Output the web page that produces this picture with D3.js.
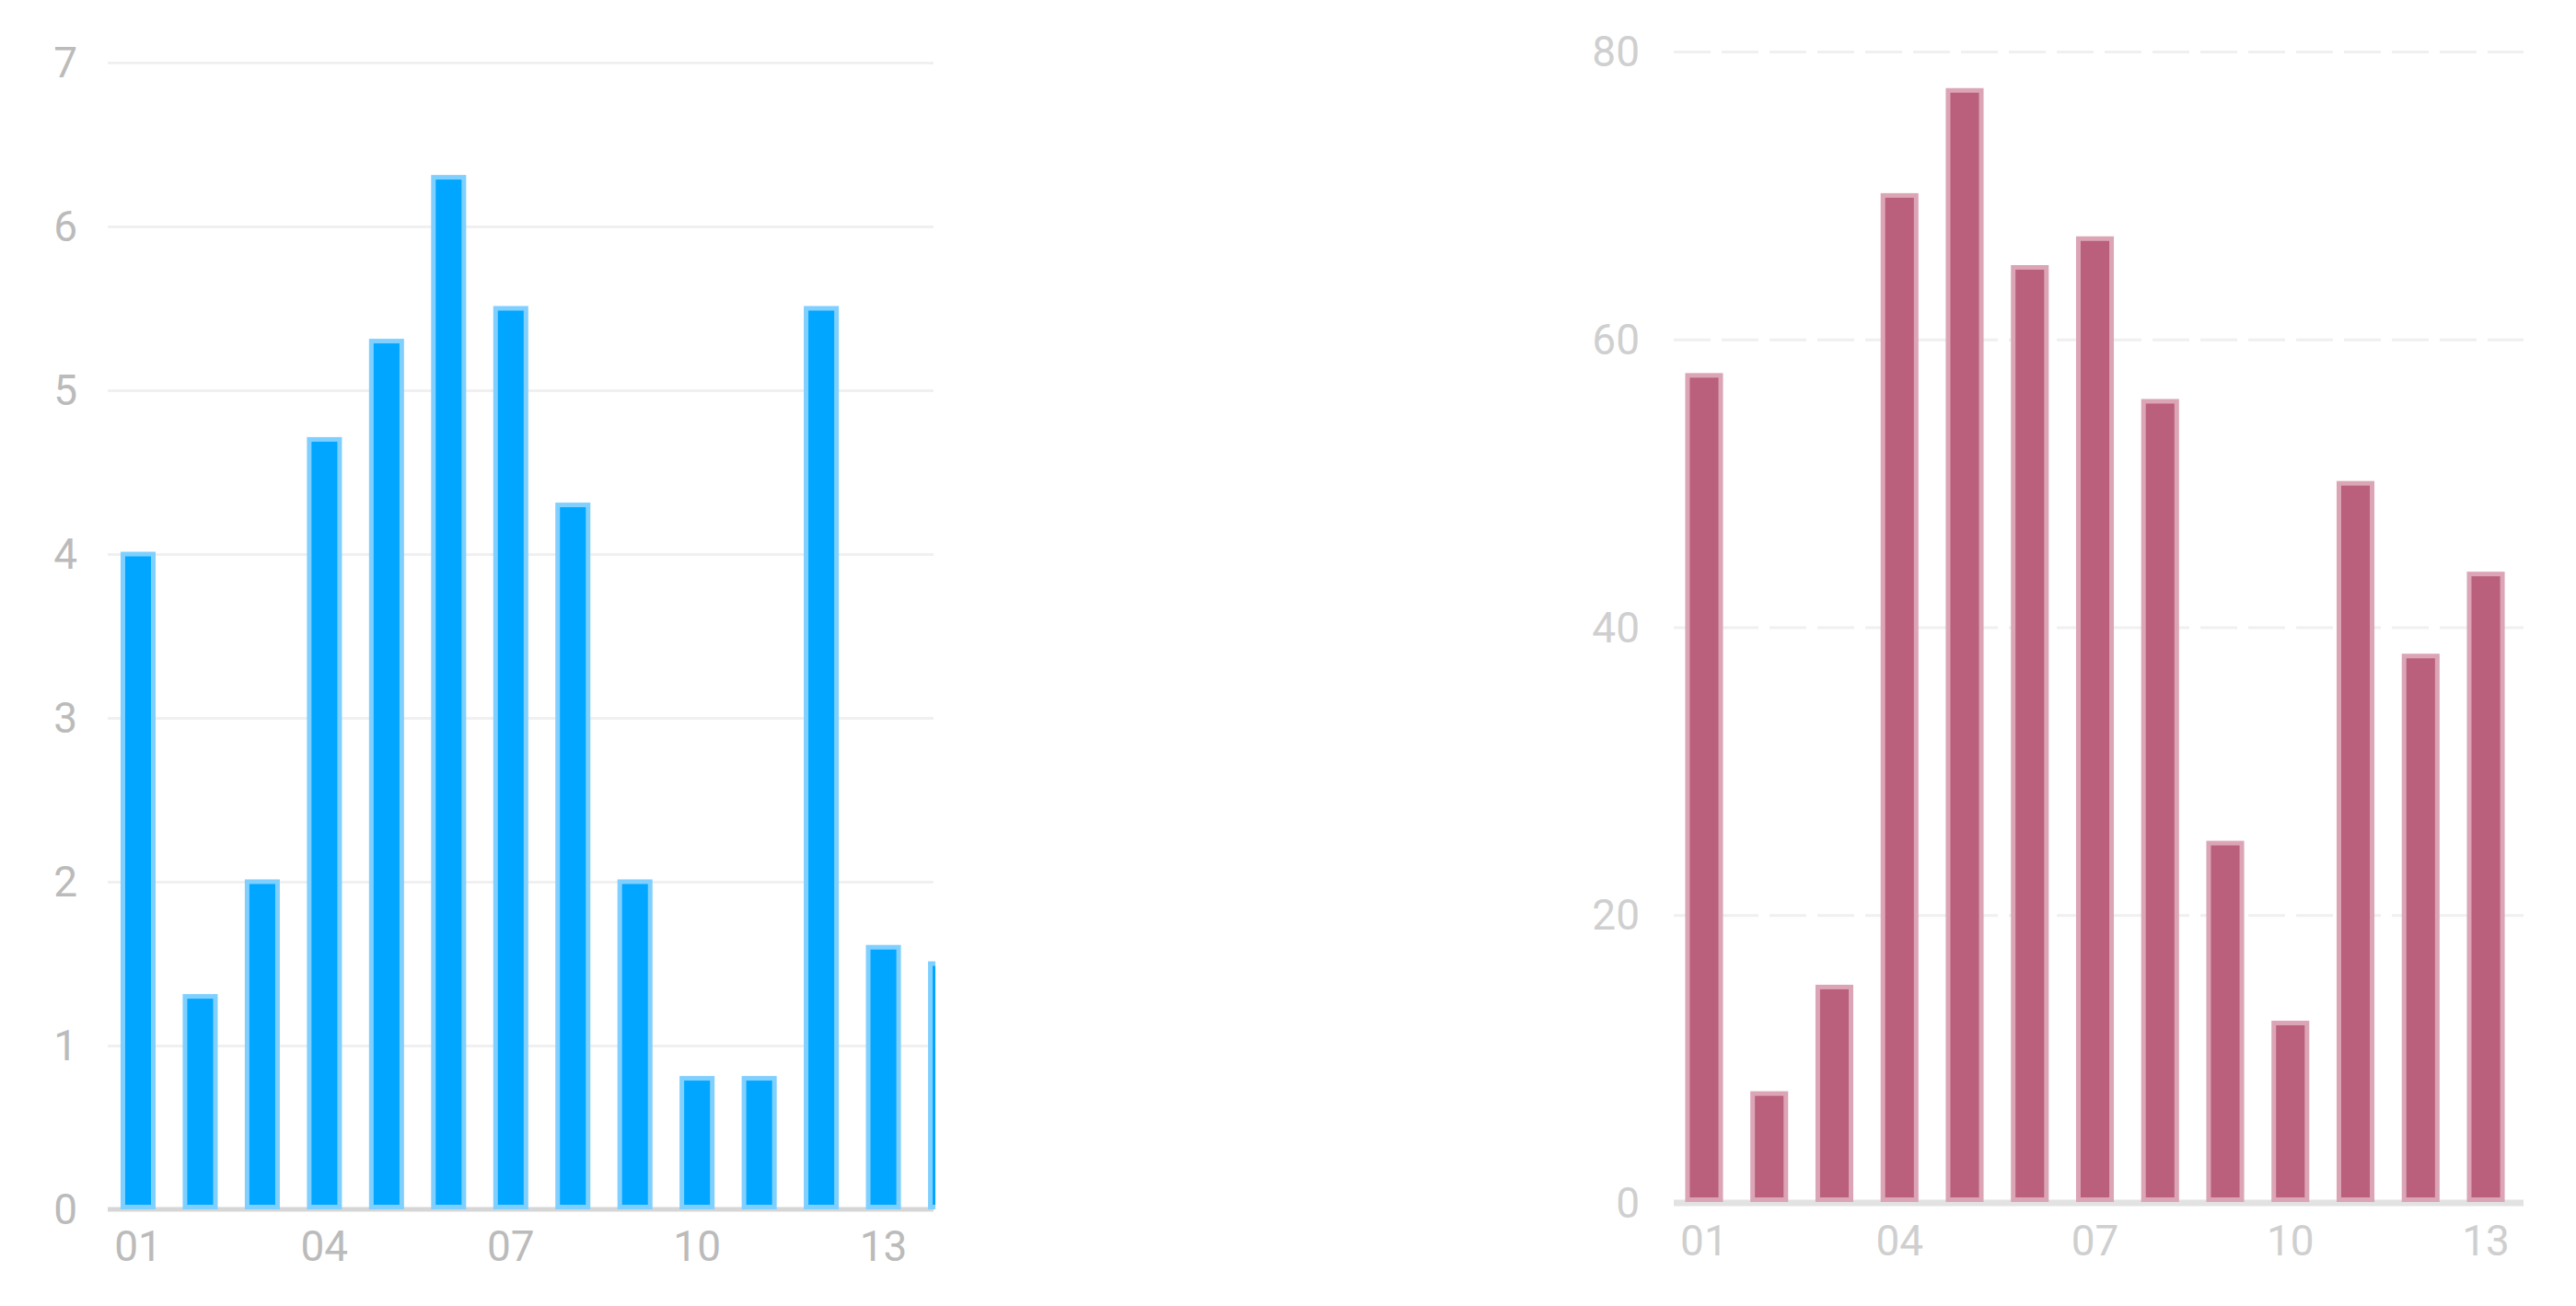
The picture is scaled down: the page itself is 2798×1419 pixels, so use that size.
<!DOCTYPE html>
<html>
<head>
<meta charset="utf-8">
<script src="https://cdn.jsdelivr.net/npm/d3@7"></script>
<style>
    html, body { margin: 0; padding: 0; background: #fff; }
    svg { display: block; }
    .tick-label { font-family: "Helvetica Neue", Roboto, "Liberation Sans", sans-serif; font-weight: 400; font-size: 46px; }
</style>
</head>
<body>
<div id="chart"></div>
<script>
// Left panel (blue) - 14 days, last one cut off by the panel edge
const leftDays = ['01', '02', '03', '04', '05', '06', '07', '08', '09', '10', '11', '12', '13', '14'];
const leftValues = [4.0, 1.3, 2.0, 4.7, 5.3, 6.3, 5.5, 4.3, 2.0, 0.8, 0.8, 5.5, 1.6, 1.5];
const leftTicks = [0, 1, 2, 3, 4, 5, 6, 7];

// Right panel (rose) - 13 days
const rightDays = ['01', '02', '03', '04', '05', '06', '07', '08', '09', '10', '11', '12', '13'];
const rightValues = [57.5, 7.6, 15, 70, 77.3, 65, 67, 55.7, 25, 12.5, 50, 38, 43.7];
const rightTicks = [0, 20, 40, 60, 80];

// x labels shown every third day
const shownDays = ['01', '04', '07', '10', '13'];

const width = 2798;
const height = 1419;

const svg = d3.select('#chart')
    .append('svg')
    .attr('width', width)
    .attr('height', height)
    .attr('viewBox', `0 0 ${width} ${height}`);

svg.append('rect')
    .attr('width', width)
    .attr('height', height)
    .attr('fill', '#fff');

// Draw one bar panel
const drawPanel = (cfg) => {
    const g = svg.append('g').attr('class', cfg.id);

    const x = d3.scaleBand()
        .domain(cfg.days)
        .range(cfg.xRange)
        .paddingInner(cfg.padInner)
        .paddingOuter(cfg.padOuter);

    const y = d3.scaleLinear()
        .domain(cfg.yDomain)
        .range(cfg.yRange);

    // Grid lines
    g.append('g')
        .attr('class', 'grid')
        .attr('transform', `translate(${cfg.gridX[0]},0)`)
        .call(d3.axisLeft(y)
            .tickValues(cfg.ticks.filter(t => t !== 0))
            .tickSize(-(cfg.gridX[1] - cfg.gridX[0]))
            .tickFormat(''))
        .call(a => a.select('.domain').remove())
        .call(a => a.selectAll('line')
            .attr('stroke', cfg.gridColor)
            .attr('stroke-width', 3)
            .attr('stroke-dasharray', cfg.dash));

    // Baseline
    g.append('line')
        .attr('x1', cfg.gridX[0])
        .attr('x2', cfg.gridX[1])
        .attr('y1', y(0))
        .attr('y2', y(0))
        .attr('stroke', cfg.baseColor)
        .attr('stroke-width', cfg.baseWidth);

    // Clip so the last bar gets cut by the panel edge
    const clipId = `clip-${cfg.id}`;
    svg.append('clipPath')
        .attr('id', clipId)
        .append('rect')
        .attr('x', cfg.gridX[0] - 10)
        .attr('y', 0)
        .attr('width', cfg.clipRight - cfg.gridX[0] + 10)
        .attr('height', height);

    const data = cfg.days.map((d, i) => ({ day: d, value: cfg.values[i] }));

    g.append('g')
        .attr('clip-path', `url(#${clipId})`)
        .selectAll('rect')
        .data(data)
        .enter()
        .append('rect')
        .attr('x', d => x(d.day))
        .attr('width', x.bandwidth())
        .attr('y', d => y(d.value))
        .attr('height', d => y(0) - y(d.value) - cfg.baseWidth / 2)
        .attr('fill', cfg.color)
        .attr('stroke', cfg.edgeColor)
        .attr('stroke-width', 5);

    // Y labels
    g.append('g')
        .selectAll('text')
        .data(cfg.ticks)
        .enter()
        .append('text')
        .attr('class', 'tick-label')
        .attr('x', cfg.yLabelX)
        .attr('y', d => y(d))
        .attr('dy', '0.35em')
        .attr('text-anchor', 'end')
        .attr('fill', cfg.labelColor)
        .text(d => d);

    // X labels
    g.append('g')
        .selectAll('text')
        .data(shownDays)
        .enter()
        .append('text')
        .attr('class', 'tick-label')
        .attr('x', d => x(d) + x.bandwidth() / 2)
        .attr('y', cfg.xLabelY)
        .attr('text-anchor', 'middle')
        .attr('fill', cfg.labelColor)
        .text(d => d);
};

drawPanel({
    id: 'left',
    days: leftDays,
    values: leftValues,
    ticks: leftTicks,
    yDomain: [0, 7],
    yRange: [1314, 68],
    xRange: [117, 1060],
    padInner: 0.51,
    padOuter: 0.244,
    gridX: [117, 1014],
    clipRight: 1016,
    gridColor: '#f0f0f0',
    dash: null,
    baseColor: '#d6d6d6',
    baseWidth: 5,
    color: '#00a6ff',
    edgeColor: '#80d0ff',
    labelColor: '#bbbbbb',
    yLabelX: 84,
    xLabelY: 1370
});

drawPanel({
    id: 'right',
    days: rightDays,
    values: rightValues,
    ticks: rightTicks,
    yDomain: [0, 80],
    yRange: [1307, 56],
    xRange: [1818, 2733],
    padInner: 0.49,
    padOuter: 0.211,
    gridX: [1818, 2741],
    clipRight: 2760,
    gridColor: '#f0f0f0',
    dash: '40,12',
    baseColor: '#e2e2e2',
    baseWidth: 7,
    color: '#ba5f7c',
    edgeColor: '#dba5b6',
    labelColor: '#cfcfcf',
    yLabelX: 1781,
    xLabelY: 1364
});
</script>
</body>
</html>
